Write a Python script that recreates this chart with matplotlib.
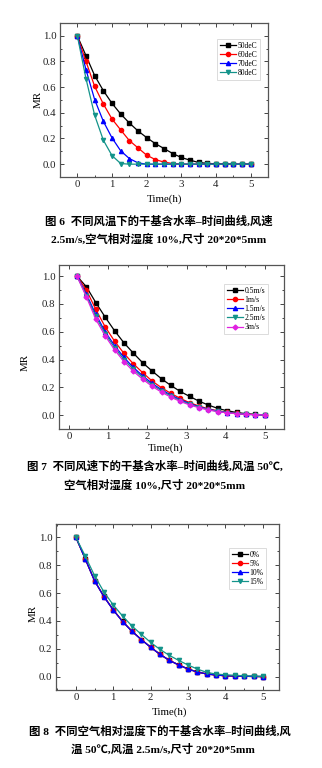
import matplotlib
matplotlib.use("Agg")
import matplotlib.pyplot as plt
from matplotlib.ticker import MultipleLocator, AutoMinorLocator

plt.rcParams['font.family'] = ['Liberation Serif', 'Noto Sans CJK SC']
plt.rcParams['mathtext.fontset'] = 'stix'

# ---- Fig. 6: drying at different air temperatures ----
t6 = [0, 0.25, 0.5, 0.75, 1.0, 1.25, 1.5, 1.75, 2.0, 2.25, 2.5,
      2.75, 3.0, 3.25, 3.5, 3.75, 4.0, 4.25, 4.5, 4.75, 5.0]
temp_labels = ['50deC', '60deC', '70deC', '80deC']
mr_50 = [1.0, 0.845, 0.69, 0.573, 0.474, 0.391, 0.321, 0.259, 0.207, 0.16, 0.122,
         0.083, 0.052, 0.031, 0.013, 0.006, 0.003, 0.001, 0.0, 0.0, 0.0]
mr_60 = [1.0, 0.80, 0.606, 0.469, 0.352, 0.267, 0.184, 0.127, 0.07, 0.036, 0.016,
         0.005, 0.001, 0.0, 0.0, 0.0, 0.0, 0.0, 0.0, 0.0, 0.0]
mr_70 = [1.0, 0.736, 0.503, 0.334, 0.205, 0.104, 0.044, 0.01, 0.0, 0.0, 0.0,
         0.0, 0.0, 0.0, 0.0, 0.0, 0.0, 0.0, 0.0, 0.0, 0.0]
mr_80 = [1.0, 0.666, 0.381, 0.187, 0.067, 0.005, 0.0, 0.0, 0.0, 0.0, 0.0,
         0.0, 0.0, 0.0, 0.0, 0.0, 0.0, 0.0, 0.0, 0.0, 0.0]

# ---- Fig. 7: drying at different air velocities ----
t7 = [0.2, 0.44, 0.68, 0.92, 1.16, 1.4, 1.64, 1.88, 2.12, 2.36, 2.6,
      2.84, 3.08, 3.32, 3.56, 3.8, 4.04, 4.28, 4.52, 4.76, 5.0]
speed_labels = ['0.5m/s', '1m/s', '1.5m/s', '2.5m/s', '3m/s']
mr_v05 = [1.0, 0.923, 0.81, 0.705, 0.607, 0.52, 0.446, 0.376, 0.317, 0.261, 0.213,
          0.17, 0.134, 0.10, 0.072, 0.048, 0.031, 0.019, 0.01, 0.005, 0.002]
mr_v1 = [1.0, 0.90, 0.76, 0.635, 0.532, 0.444, 0.369, 0.305, 0.245, 0.197, 0.156,
         0.12, 0.089, 0.065, 0.045, 0.031, 0.02, 0.013, 0.007, 0.004, 0.002]
mr_v15 = [1.0, 0.87, 0.725, 0.60, 0.50, 0.415, 0.343, 0.282, 0.228, 0.183, 0.144,
          0.111, 0.083, 0.06, 0.042, 0.028, 0.018, 0.011, 0.006, 0.003, 0.001]
mr_v25 = [1.0, 0.86, 0.71, 0.585, 0.485, 0.40, 0.33, 0.27, 0.218, 0.175, 0.137,
          0.105, 0.078, 0.056, 0.039, 0.026, 0.017, 0.01, 0.006, 0.003, 0.001]
mr_v3 = [1.0, 0.85, 0.69, 0.57, 0.47, 0.385, 0.315, 0.258, 0.207, 0.165, 0.129,
         0.098, 0.073, 0.053, 0.037, 0.025, 0.016, 0.01, 0.005, 0.003, 0.001]

# ---- Fig. 8: drying at different relative humidities ----
t8 = [0, 0.25, 0.5, 0.75, 1.0, 1.25, 1.5, 1.75, 2.0, 2.25, 2.5,
      2.75, 3.0, 3.25, 3.5, 3.75, 4.0, 4.25, 4.5, 4.75, 5.0]
rh_labels = ['0%', '5%', '10%', '15%']
mr_rh0 = [1.0, 0.847, 0.689, 0.576, 0.48, 0.397, 0.327, 0.267, 0.212, 0.161, 0.118,
          0.085, 0.056, 0.034, 0.02, 0.012, 0.007, 0.005, 0.003, 0.002, 0.001]
mr_rh5 = [1.0, 0.846, 0.688, 0.575, 0.479, 0.396, 0.326, 0.266, 0.211, 0.16, 0.117,
          0.084, 0.055, 0.033, 0.02, 0.012, 0.007, 0.005, 0.003, 0.002, 0.001]
mr_rh10 = [1.0, 0.845, 0.687, 0.574, 0.478, 0.395, 0.325, 0.266, 0.211, 0.16, 0.117,
           0.084, 0.055, 0.033, 0.02, 0.012, 0.007, 0.005, 0.003, 0.002, 0.001]
mr_rh15 = [1.0, 0.866, 0.725, 0.608, 0.515, 0.435, 0.364, 0.304, 0.246, 0.196, 0.153,
           0.117, 0.084, 0.055, 0.031, 0.019, 0.014, 0.01, 0.007, 0.005, 0.003]

colors = ['#000000', '#ff0000', '#0000ff', '#13938a', '#e020e0']
markers = ['s', 'o', '^', 'v', 'D']

fig = plt.figure(figsize=(3.22, 7.68), dpi=100)


def style_axes(ax, xlim, ylim):
    ax.set_xlim(*xlim)
    ax.set_ylim(*ylim)
    ax.xaxis.set_major_locator(MultipleLocator(1))
    ax.xaxis.set_minor_locator(AutoMinorLocator(2))
    ax.yaxis.set_major_locator(MultipleLocator(0.2))
    ax.yaxis.set_minor_locator(AutoMinorLocator(2))
    ax.yaxis.set_major_formatter(matplotlib.ticker.FormatStrFormatter('%.1f'))
    ax.tick_params(which='both', direction='in', top=True, right=True,
                   color='#444444', width=0.7)
    ax.tick_params(which='major', length=2.6, labelsize=7.8, pad=2.5,
                   labelcolor='#222222')
    ax.tick_params(which='minor', length=1.5)
    for s in ax.spines.values():
        s.set_color('#555555')
        s.set_linewidth(0.9)


def draw(ax, t, series, labels, legend_anchor):
    for i, (y, lab) in enumerate(zip(series, labels)):
        ms = 3.0 if markers[i] != 'D' else 2.5
        ax.plot(t, y, color=colors[i], marker=markers[i], markersize=ms,
                linewidth=0.9, label=lab)
    leg = ax.legend(loc='upper left', bbox_to_anchor=legend_anchor,
                    bbox_transform=fig.transFigure, fontsize=5.5,
                    frameon=True, fancybox=False, edgecolor='#cccccc',
                    borderpad=0.35, labelspacing=0.15, handlelength=2.2,
                    handletextpad=0.15, borderaxespad=0)
    leg.get_frame().set_linewidth(0.6)


W, H = 322.0, 768.0


def axes_px(l, t, r, b):
    return fig.add_axes([l / W, 1 - b / H, (r - l) / W, (b - t) / H])


cap_kw = dict(ha='center', va='center', fontsize=8.2, fontweight='bold',
              family=['Liberation Serif', 'Noto Sans CJK SC'])

# Fig. 6
ax1 = axes_px(60, 23, 268, 177)
style_axes(ax1, (-0.5, 5.5), (-0.1, 1.1))
draw(ax1, t6, [mr_50, mr_60, mr_70, mr_80], temp_labels, (217 / W, 1 - 39 / H))
fig.text(38 / W, 1 - 100 / H, 'MR', rotation=90, ha='center', va='center', fontsize=7.8)
fig.text(164 / W, 1 - 199 / H, 'Time(h)', ha='center', va='center', fontsize=7.8)
fig.text(159 / W, 1 - 221 / H, '图 6  不同风温下的干基含水率–时间曲线,风速', **cap_kw)
fig.text(159 / W, 1 - 239 / H, '2.5m/s,空气相对湿度 10%,尺寸 20*20*5mm', **cap_kw)

# Fig. 7
ax2 = axes_px(59, 265, 284, 429)
style_axes(ax2, (-0.26, 5.49), (-0.1, 1.08))
draw(ax2, t7, [mr_v05, mr_v1, mr_v15, mr_v25, mr_v3], speed_labels,
     (224 / W, 1 - 284 / H))
fig.text(25 / W, 1 - 362 / H, 'MR', rotation=90, ha='center', va='center', fontsize=7.8)
fig.text(165 / W, 1 - 448 / H, 'Time(h)', ha='center', va='center', fontsize=7.8)
fig.text(155 / W, 1 - 466 / H, '图 7  不同风速下的干基含水率–时间曲线,风温 50℃,', **cap_kw)
fig.text(155 / W, 1 - 485 / H, '空气相对湿度 10%,尺寸 20*20*5mm', **cap_kw)

# Fig. 8
ax3 = axes_px(56, 524, 279, 690)
style_axes(ax3, (-0.53, 5.43), (-0.095, 1.095))
draw(ax3, t8, [mr_rh0, mr_rh5, mr_rh10, mr_rh15], rh_labels, (229 / W, 1 - 548 / H))
fig.text(33 / W, 1 - 614 / H, 'MR', rotation=90, ha='center', va='center', fontsize=7.8)
fig.text(169 / W, 1 - 712 / H, 'Time(h)', ha='center', va='center', fontsize=7.8)
fig.text(160 / W, 1 - 731 / H, '图 8  不同空气相对湿度下的干基含水率–时间曲线,风', **cap_kw)
fig.text(163 / W, 1 - 749 / H, '温 50℃,风温 2.5m/s,尺寸 20*20*5mm', **cap_kw)

fig.savefig('out.png', dpi=100)
